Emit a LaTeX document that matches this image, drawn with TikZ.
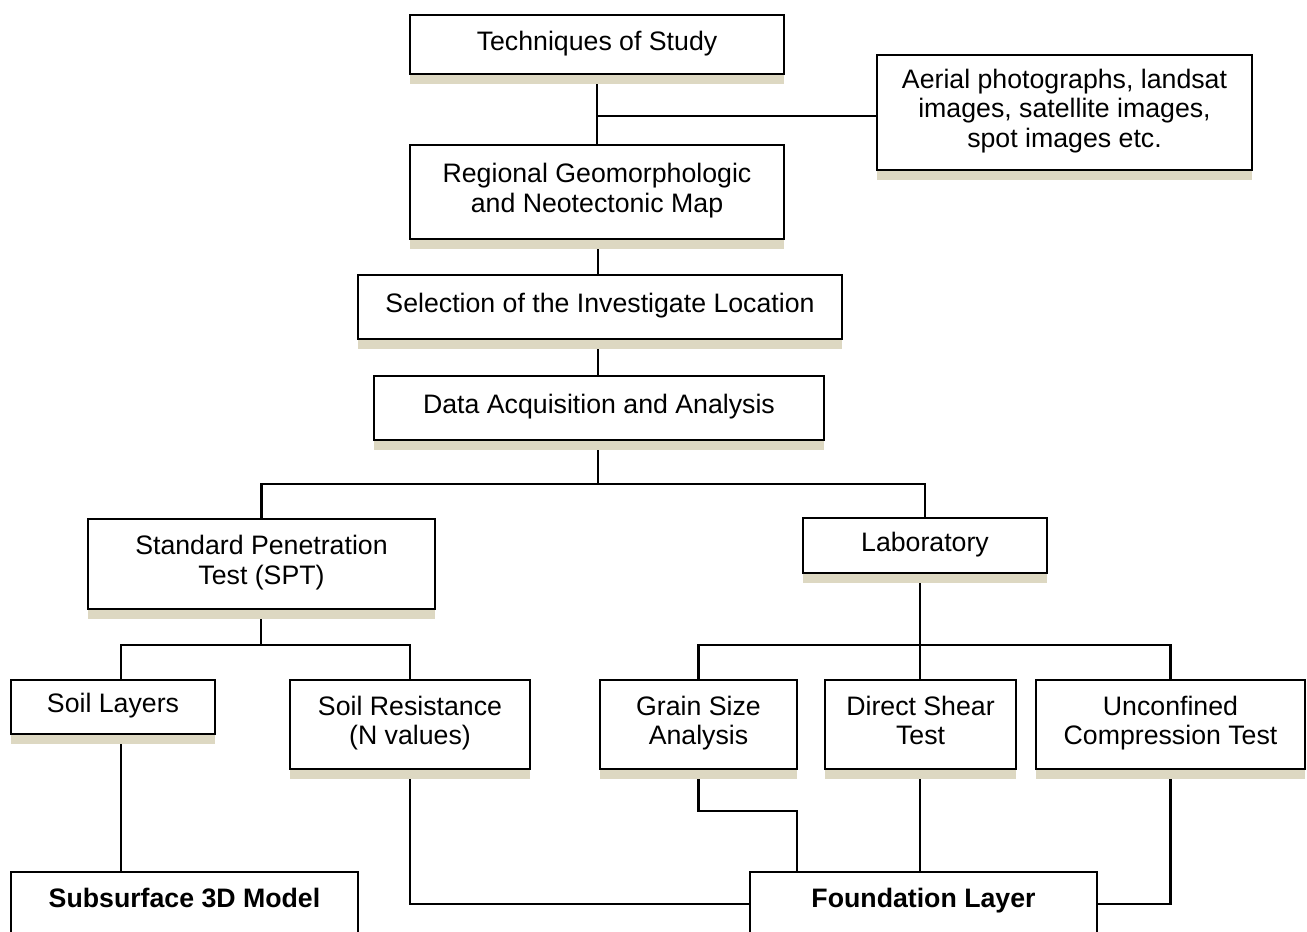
\documentclass[tikz,border=0pt]{standalone}
\usepackage{fontspec}
\setmainfont{Liberation Sans}
\usetikzlibrary{shadows,backgrounds}
\definecolor{shadowtan}{RGB}{221,216,194}

\begin{document}
\begin{tikzpicture}[x=0.02cm, y=-0.02cm, line width=1.3pt,
    font=\fontsize{15.2}{16.8}\selectfont,
    box/.style={draw, fill=white, align=center, inner sep=0pt,
      execute at begin node=\strut, execute at end node=\strut,
      drop shadow={shadow xshift=0pt, shadow yshift=-0.2cm, fill=shadowtan, opacity=1}},
    endbox/.style={box, font=\fontsize{15.2}{16.8}\selectfont\bfseries,
      minimum width=6.94cm, text height=0.7cm, text depth=0.58cm},
    link/.style={draw, line width=1.3pt}]
  \clip (0,0) rectangle (1307,931);

  % upper chain
  \node[box, minimum width=7.48cm, minimum height=1.18cm] (tech)   at (597,44.5) {Techniques of Study};
  \node[box, minimum width=7.5cm,  minimum height=2.3cm]  (aerial) at (1064.5,112.5) {Aerial photographs, landsat\\images, satellite images,\\spot images etc.};
  \node[box, minimum width=7.48cm, minimum height=1.88cm] (region) at (597,192)  {Regional Geomorphologic\\and Neotectonic Map};
  \node[box, minimum width=9.68cm, minimum height=1.28cm] (select) at (600,307)  {Selection of the Investigate Location};
  \node[box, minimum width=9.0cm,  minimum height=1.28cm] (data)   at (599,408)  {Data Acquisition and Analysis};

  % two branches
  \node[box, minimum width=6.94cm, minimum height=1.8cm]  (spt) at (261.5,564) {Standard Penetration\\Test (SPT)};
  \node[box, minimum width=4.88cm, minimum height=1.1cm]  (lab) at (925,545.5) {Laboratory};

  % tests
  \node[box, minimum width=4.08cm, minimum height=1.08cm] (soil)   at (113,707)    {Soil Layers};
  \node[box, minimum width=4.8cm,  minimum height=1.78cm] (resist) at (410,724.5)  {Soil Resistance\\(N values)};
  \node[box, minimum width=3.94cm, minimum height=1.78cm] (grain)  at (698.5,724.5) {Grain Size\\Analysis};
  \node[box, minimum width=3.82cm, minimum height=1.78cm] (shear)  at (920.5,724.5) {Direct Shear\\Test};
  \node[box, minimum width=5.38cm, minimum height=1.78cm] (unconf) at (1170.5,724.5) {Unconfined\\Compression Test};

  % results
  \node[endbox] (model) at (184.5,904) {Subsurface 3D Model};
  \node[endbox] (found) at (923.5,904) {Foundation Layer};

  % junctions
  \coordinate (tj) at (597,116);
  \coordinate (dj) at (598,484);
  \coordinate (sj) at (261,645);
  \coordinate (sl) at (121,645);
  \coordinate (lj) at (920,645);
  \coordinate (gj) at (797,811);

  \begin{scope}[on background layer]
    \path[link] (tech.south) -- (region.north);
    \path[link] (tj) -- (tj -| aerial.west);
    \path[link] (dj |- region.south) -- (dj |- select.north);
    \path[link] (dj |- select.south) -- (dj |- data.north);
    \path[link] (dj |- data.south) -- (dj);
    \path[link] (spt.north) |- (dj) -| (lab.north);
    \path[link] (sj |- spt.south) -- (sj);
    \path[link] (sl |- soil.north) -- (sl) -| (resist.north);
    \path[link] (lj |- lab.south) -- (lj);
    \path[link] (grain.north) |- (lj) -| (unconf.north);
    \path[link] (lj) -- (lj |- shear.north);
    % down to the results
    \path[link] (sl |- soil.south) -- (sl |- model.north);
    \path[link] (resist.south) |- (found.west);
    \path[link] (grain.south) |- (gj) -- (gj |- found.north);
    \path[link] (lj |- shear.south) -- (lj |- found.north);
    \path[link] (unconf.south) |- (found.east);
  \end{scope}
\end{tikzpicture}
\end{document}
